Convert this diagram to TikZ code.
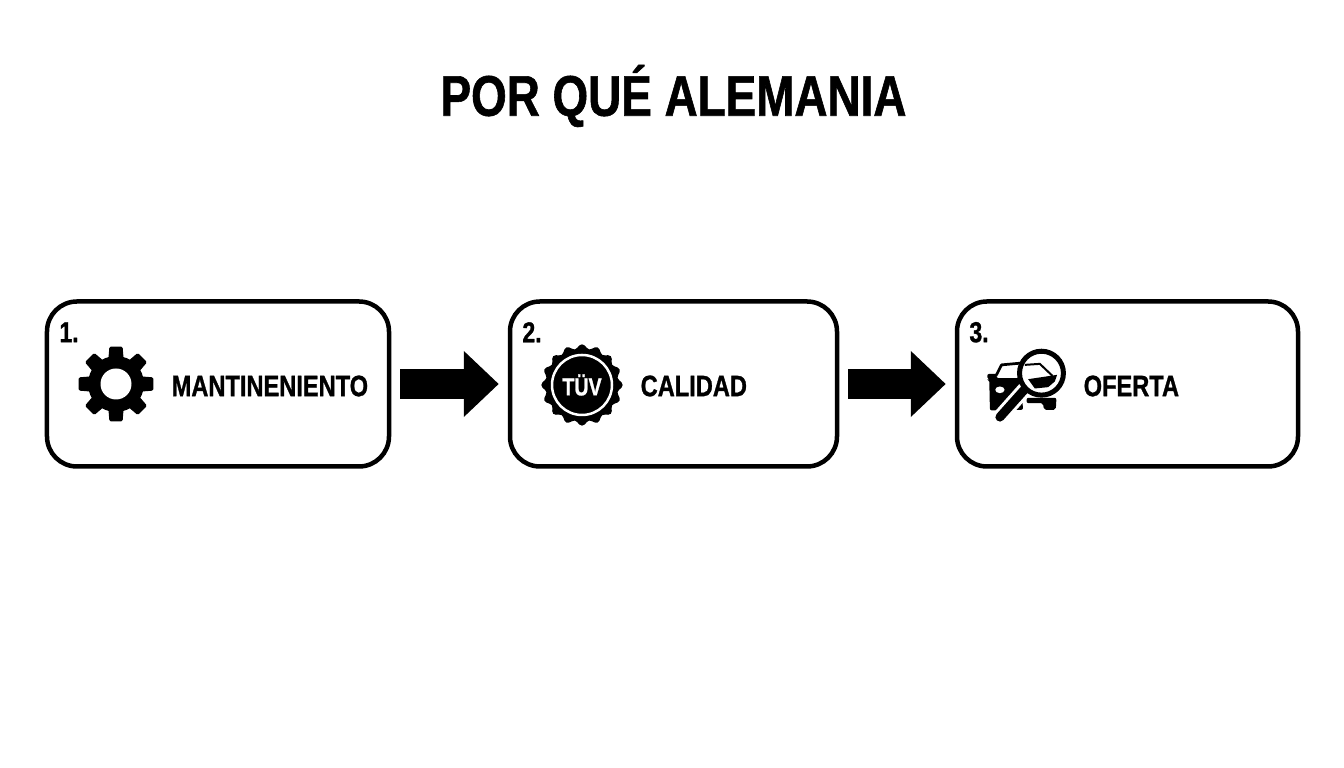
\documentclass[tikz,border=0pt]{standalone}
\usepackage{fontspec}
\setmainfont{Liberation Sans}
\newfontfamily\condfont[FakeStretch=0.8, BoldFeatures={FakeBold=1.0}]{Liberation Sans}
\usetikzlibrary{arrows.meta}
\usetikzlibrary{positioning, calc}
\tikzset{
    stepbox/.style={draw=black, line width=0.045cm, rounded corners=0.3cm, minimum height=1.65cm, inner sep=0pt},
    numlabel/.style={anchor=west, inner sep=0pt, text=black, font=\condfont\bfseries\fontsize{8.2}{10}\selectfont},
    steplabel/.style={anchor=west, inner sep=0pt, text=black, font=\condfont\bfseries\fontsize{8.4}{10}\selectfont},
    blockarrow/.style={draw=black, line width=0.3cm, -{Triangle[length=0.35cm, width=0.64cm]}, shorten <=0.09cm, shorten >=0.09cm}
}
\begin{document}
\begin{tikzpicture}
    \useasboundingbox (0,0) rectangle (13.44,7.68);

    \node[inner sep=0pt, text=black, font=\condfont\bfseries\fontsize{16.3}{20}\selectfont] (title) at (6.735,6.72) {POR QUÉ ALEMANIA};

    % boxes with number and label
    \foreach \n/\x/\w/\m/\lx in {
        1/2.18/3.42/MANTINENIENTO/1.71,
        2/6.735/3.27/CALIDAD/6.40,
        3/11.275/3.41/OFERTA/10.83}
    {
        \node[stepbox, minimum width=\w cm] (box\n) at (\x,3.84) {};
        \node[numlabel] (num\n) at ($(box\n.north west)+(0.14,-0.33)$) {\n.};
        \node[steplabel] (label\n) at (\lx,3.82) {\m};
    }

    \draw[blockarrow] (box1.east) -- (box2.west);
    \draw[blockarrow] (box2.east) -- (box3.west);

    % gear
    \begin{scope}[shift={(1.16,3.84)}]
        \fill[black] (0,0) circle (0.28);
        \foreach \a in {0,45,...,315}
            \fill[black, rounded corners=0.015cm] (\a-17:0.26) -- (\a-10:0.38) -- (\a+10:0.38) -- (\a+17:0.26) -- cycle;
        \fill[white] (0,0) circle (0.155);
    \end{scope}

    % badge
    \begin{scope}[shift={(5.82,3.83)}]
        \fill[black] plot[smooth cycle, samples=96, domain=0:356.25] (\x:{0.385+0.022*cos(16*\x)});
        \draw[white, line width=0.025cm] (0,0) circle (0.30);
        \node[inner sep=0pt, text=white, font=\condfont\bfseries\fontsize{7}{8}\selectfont] (tuv) at (0,0) {TÜV};
    \end{scope}

    % car under magnifier, in crop units
    \begin{scope}[shift={(9.60,4.58)}, x=0.003333cm, y=-0.003333cm]
        \draw[black, line width=0.027cm, line join=round] (108,198) -- (125,165) -- (180,160);
        \fill[black, rounded corners=0.02cm] (82,192) -- (110,192) -- (110,205) -- (180,205) -- (190,300) -- (108,302) -- (90,302) -- (88,210) -- (82,208) -- cycle;
        \fill[white] (120,240) ellipse (14 and 10);
        \fill[black, rounded corners=0.02cm] (200,264) -- (290,264) -- (288,300) -- (252,300) -- (250,280) -- (200,280) -- cycle;
        \draw[white, line width=0.15cm] (120,322) -- (195,238);
        \draw[black, line width=0.09cm, line cap=round] (120,322) -- (195,238);
        \fill[white] (245,190) circle (66);
        \draw[black, line width=0.05cm] (245,190) circle (66);
        \draw[black, line width=0.02cm] (195,165) -- (240,162) -- (278,198);
        \fill[black] (205,208) -- (292,195) -- (285,215) -- (265,232) -- (225,236) -- cycle;
    \end{scope}
\end{tikzpicture}
\end{document}
